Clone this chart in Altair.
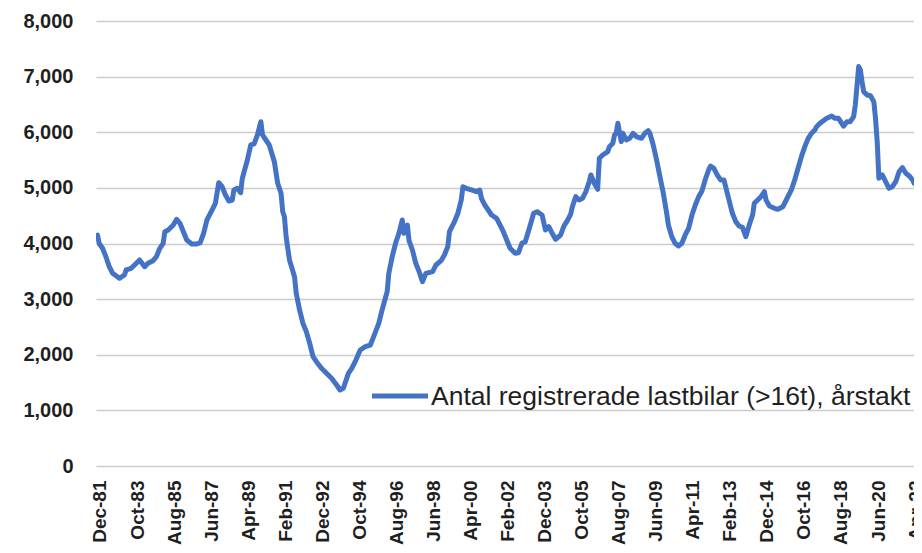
import json
import altair as alt
import pandas as pd

# Month index counted from Dec-81 (0 = Dec-81)
month_index = [
    0, 1, 3, 5, 7, 9, 13, 16, 17, 20, 22, 25, 28, 30, 33, 35, 37, 39, 40, 42,
    45, 47, 49, 51, 53, 56, 59, 61, 63, 65, 68, 70, 72, 74, 76, 78, 80, 81, 83, 85,
    86, 89, 91, 93, 95, 97, 98, 100, 102, 105, 107, 109, 110, 111, 112, 114, 117, 118, 120, 122,
    124, 126, 128, 130, 133, 136, 139, 142, 144, 146, 149, 151, 153, 156, 159, 162, 164, 167, 169, 172,
    173, 175, 177, 179, 181, 182, 184, 185, 187, 189, 191, 193, 195, 199, 201, 204, 206, 208, 209, 212,
    214, 216, 217, 219, 222, 225, 227, 228, 230, 232, 234, 237, 239, 241, 243, 245, 248, 250, 252, 254,
    257, 259, 261, 264, 266, 268, 270, 272, 275, 277, 279, 281, 282, 284, 286, 288, 290, 292, 293, 295,
    297, 298, 300, 303, 304, 306, 307, 308, 309, 311, 312, 314, 316, 318, 320, 323, 325, 327, 328, 330,
    332, 334, 336, 338, 339, 341, 343, 345, 347, 349, 351, 353, 355, 357, 359, 361, 363, 364, 366, 368,
    370, 372, 374, 375, 377, 379, 381, 383, 385, 387, 389, 390, 392, 394, 396, 397, 399, 402, 404, 407,
    409, 412, 414, 416, 418, 420, 422, 424, 426, 427, 429, 431, 433, 436, 438, 440, 443, 445, 447, 449,
    450, 452, 453, 454, 455, 457, 459, 461, 462, 463, 464, 466, 468, 470, 472, 474, 476, 478, 480, 482,
    484, 485, 487, 489, 491,
]
trucks = [
    4150, 4000, 3914, 3763, 3583, 3464, 3374, 3434, 3524, 3554, 3614, 3704, 3583, 3644, 3691, 3763, 3914, 4004, 4212, 4243,
    4333, 4435, 4363, 4212, 4063, 3991, 3991, 4015, 4183, 4423, 4602, 4722, 5093, 5021, 4872, 4764, 4782, 4962, 4992, 4913,
    5172, 5501, 5771, 5790, 5951, 6190, 5951, 5861, 5771, 5471, 5082, 4903, 4572, 4482, 4123, 3704, 3403, 3104, 2805, 2565,
    2415, 2206, 1965, 1875, 1756, 1666, 1577, 1456, 1366, 1397, 1666, 1756, 1875, 2085, 2145, 2175, 2325, 2565, 2805, 3134,
    3464, 3763, 4004, 4183, 4423, 4183, 4333, 4050, 3883, 3644, 3494, 3314, 3464, 3494, 3614, 3691, 3793, 3943, 4212, 4393,
    4543, 4782, 5021, 4992, 4962, 4932, 4962, 4812, 4692, 4602, 4512, 4453, 4333, 4212, 4063, 3914, 3824, 3835, 4004, 4033,
    4333, 4543, 4572, 4512, 4243, 4303, 4183, 4076, 4153, 4318, 4410, 4530, 4662, 4842, 4782, 4812, 4932, 5111, 5232, 5082,
    4974, 5532, 5591, 5651, 5741, 5801, 5951, 5981, 6161, 5831, 5981, 5861, 5891, 5981, 5921, 5891, 5981, 6028, 5981, 5771,
    5501, 5202, 4903, 4543, 4333, 4123, 4004, 3955, 4004, 4153, 4273, 4512, 4692, 4842, 4950, 5160, 5330, 5393, 5352, 5232,
    5142, 5142, 4903, 4782, 4543, 4393, 4315, 4291, 4123, 4333, 4512, 4722, 4782, 4842, 4932, 4782, 4674, 4633, 4615, 4662,
    4782, 4962, 5142, 5352, 5561, 5741, 5891, 5981, 6041, 6100, 6161, 6208, 6251, 6290, 6250, 6251, 6110, 6190, 6190, 6280,
    6490, 7180, 7120, 6910, 6730, 6670, 6657, 6550, 6251, 5831, 5172, 5232, 5111, 4992, 5021, 5111, 5291, 5363, 5262, 5214,
    5142, 5082, 5052, 4992, 4950,
]
tick_labels = [
    "Dec-81", "Oct-83", "Aug-85", "Jun-87", "Apr-89", "Feb-91", "Dec-92", "Oct-94",
    "Aug-96", "Jun-98", "Apr-00", "Feb-02", "Dec-03", "Oct-05", "Aug-07", "Jun-09",
    "Apr-11", "Feb-13", "Dec-14", "Oct-16", "Aug-18", "Jun-20", "Apr-22",
]
y_ticks = [0, 1000, 2000, 3000, 4000, 5000, 6000, 7000, 8000]
series_name = "Antal registrerade lastbilar (>16t), årstakt"

df = pd.DataFrame({"m": month_index, "v": trucks})
tick_values = [22 * k for k in range(len(tick_labels))]
label_expr = json.dumps(tick_labels) + "[round(datum.value / 22)]"

FONT = "Liberation Sans"
BLUE = "#4472C4"
TXT = "#1f1f1f"

line = alt.Chart(df).mark_line(
    color=BLUE, strokeWidth=5, strokeJoin="round", strokeCap="round", clip=True
).encode(
    x=alt.X(
        "m:Q",
        scale=alt.Scale(domain=[-0.89, 484.85], nice=False, zero=False),
        axis=alt.Axis(
            values=tick_values,
            labelExpr=label_expr,
            labelAngle=270,
            labelAlign="right",
            labelBaseline="middle",
            labelFont=FONT,
            labelFontSize=19,
            labelFontWeight="bold",
            labelColor=TXT,
            labelPadding=14,
            labelOffset=2.5,
            labelOverlap=False,
            labelFlush=False,
            ticks=False,
            tickSize=0,
            domain=False,
            grid=False,
            title=None,
        ),
    ),
    y=alt.Y(
        "v:Q",
        scale=alt.Scale(domain=[0, 8000], nice=False),
        axis=alt.Axis(
            values=y_ticks,
            format=",.0f",
            labelFont=FONT,
            labelFontSize=20,
            labelFontWeight="bold",
            labelColor=TXT,
            labelPadding=23,
            ticks=False,
            tickSize=0,
            domain=False,
            grid=True,
            gridColor="#cccccc",
            gridWidth=1.5,
            title=None,
        ),
    ),
)

legend_line = alt.Chart(pd.DataFrame({"k": [0]})).mark_rule(
    color=BLUE, strokeWidth=5
).encode(x=alt.value(276), x2=alt.value(332), y=alt.value(375))

legend_text = alt.Chart(pd.DataFrame({"t": [series_name]})).mark_text(
    align="left", baseline="alphabetic", font=FONT, fontSize=26.5, color=TXT
).encode(x=alt.value(335), y=alt.value(384), text="t:N")

chart = alt.layer(line, legend_line, legend_text).properties(
    width=818,
    height=445,
    padding={"left": 88, "top": 13, "right": 0, "bottom": 79},
    autosize=alt.AutoSizeParams(type="none"),
).configure_view(stroke=None)

chart.save("out.html", embed_options={"renderer": "svg", "actions": False})
